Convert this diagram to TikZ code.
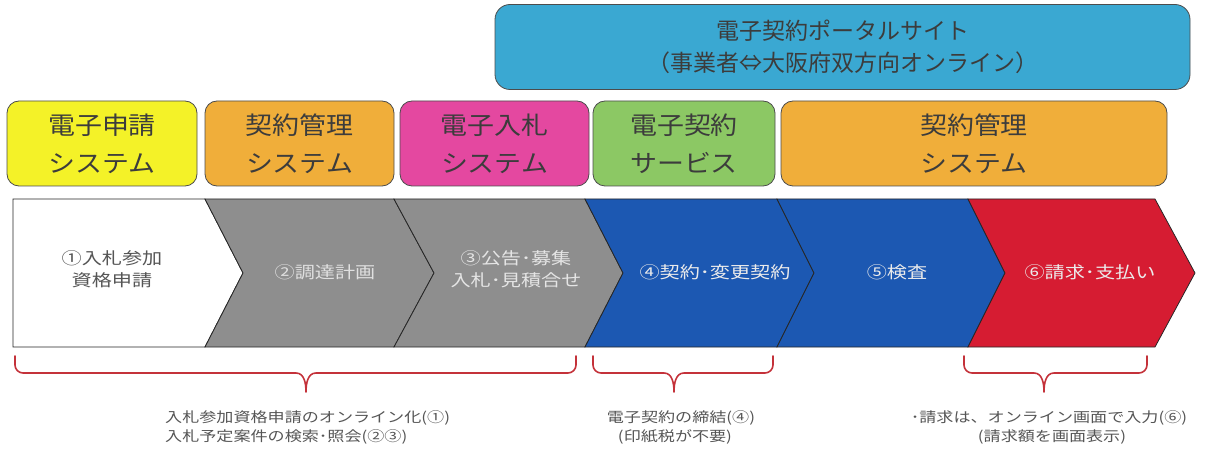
\documentclass[tikz,border=0pt]{standalone}
\usepackage{fontspec}
\setmainfont{Noto Sans CJK JP}
\newfontfamily\widefont[FakeStretch=1.22]{Noto Sans CJK JP}
\newfontfamily\midfont[FakeStretch=1.1]{Noto Sans CJK JP}
\definecolor{portal}{RGB}{58,168,210}
\definecolor{ylw}{RGB}{244,242,40}
\definecolor{org}{RGB}{240,174,58}
\definecolor{mag}{RGB}{228,72,160}
\definecolor{grn}{RGB}{140,200,100}
\definecolor{chgray}{RGB}{142,142,142}
\definecolor{chblue}{RGB}{28,88,178}
\definecolor{chred}{RGB}{214,28,50}
\definecolor{brk}{RGB}{196,50,58}
\definecolor{txt}{RGB}{60,60,60}
\definecolor{btxt}{RGB}{85,85,85}
\tikzset{
  sysbox/.style={draw=black!70, line width=0.8pt, rounded corners=12pt, align=center, text=txt,
    font=\midfont\fontsize{24.5}{38}\selectfont, inner sep=0pt},
  chev/.style={draw=black!85, line width=0.8pt},
  chtext/.style={align=center, font=\widefont\fontsize{16.5}{22}\selectfont},
  brace/.style={draw=brk, line width=1.6pt, line cap=round, line join=round},
  note/.style={text=btxt, font=\widefont\fontsize{14}{18}\selectfont, inner sep=0pt}
}
\begin{document}
\begin{tikzpicture}[x=1pt,y=-1pt]
\useasboundingbox (0,0) rectangle (1211,457);
% portal
\node[sysbox, fill=portal, minimum width=695pt, minimum height=85pt, rounded corners=15pt, font=\fontsize{23}{32}\selectfont] (portal) at (842.5,47)
  {電子契約ポータルサイト\\（事業者⇔大阪府双方向オンライン）};
% systems
\node[sysbox, fill=ylw, minimum width=190pt, minimum height=85pt] (s1) at (102,143.5) {電子申請\\システム};
\node[sysbox, fill=org, minimum width=189pt, minimum height=85pt] (s2) at (299.5,143.5) {契約管理\\システム};
\node[sysbox, fill=mag, minimum width=189pt, minimum height=85pt] (s3) at (494.5,143.5) {電子入札\\システム};
\node[sysbox, fill=grn, minimum width=182pt, minimum height=85pt] (s4) at (684,143.5) {電子契約\\サービス};
\node[sysbox, fill=org, minimum width=386pt, minimum height=85pt] (s5) at (974,143.5) {契約管理\\システム};
% chevrons
\draw[chev, fill=white] (13,199) -- (205,199) -- (243,273) -- (205,347) -- (13,347) -- cycle;
\draw[chev, fill=chgray] (205,199) -- (394,199) -- (434,273) -- (394,347) -- (205,347) -- (243,273) -- cycle;
\draw[chev, fill=chgray] (394,199) -- (585,199) -- (623,273) -- (585,347) -- (394,347) -- (434,273) -- cycle;
\draw[chev, fill=chblue] (585,199) -- (777,199) -- (814,273) -- (777,347) -- (585,347) -- (623,273) -- cycle;
\draw[chev, fill=chblue] (777,199) -- (968,199) -- (1005,273) -- (968,347) -- (777,347) -- (814,273) -- cycle;
\draw[chev, fill=chred] (968,199) -- (1155,199) -- (1195,273) -- (1155,347) -- (968,347) -- (1005,273) -- cycle;
\node[chtext, text=btxt] (c1) at (112,269) {①入札参加\\資格申請};
\node[chtext, text=black!12] (c2) at (325,272) {②調達計画};
\node[chtext, text=black!10] (c3) at (516,269) {③公告･募集\\入札･見積合せ};
\node[chtext, text=black!8] (c4) at (715,272) {④契約･変更契約};
\node[chtext, text=black!8] (c5) at (897,272) {⑤検査};
\node[chtext, text=black!8] (c6) at (1090,272) {⑥請求･支払い};
% braces
\draw[brace] (15,356) -- (15,365) arc[start angle=180,end angle=90,radius=8] -- (296,373)
  to[out=0,in=90] (306,392) to[out=90,in=180] (316,373) -- (568,373) arc[start angle=90,end angle=0,radius=8] -- (576,356);
\draw[brace] (593,356) -- (593,365) arc[start angle=180,end angle=90,radius=8] -- (664,373)
  to[out=0,in=90] (674,392) to[out=90,in=180] (684,373) -- (765,373) arc[start angle=90,end angle=0,radius=8] -- (773,356);
\draw[brace] (964,356) -- (964,365) arc[start angle=180,end angle=90,radius=8] -- (1034,373)
  to[out=0,in=90] (1044,392) to[out=90,in=180] (1054,373) -- (1139,373) arc[start angle=90,end angle=0,radius=8] -- (1147,356);
% notes
\node[note, anchor=west] (n1a) at (165,418) {入札参加資格申請のオンライン化(①)};
\node[note, anchor=west] (n1b) at (165,437) {入札予定案件の検索･照会(②③)};
\node[note] (n2a) at (681,418) {電子契約の締結(④)};
\node[note] (n2b) at (675,437) {(印紙税が不要)};
\node[note] (n3a) at (1049,418) {･請求は、オンライン画面で入力(⑥)};
\node[note] (n3b) at (1052,437) {(請求額を画面表示)};
\end{tikzpicture}
\end{document}
